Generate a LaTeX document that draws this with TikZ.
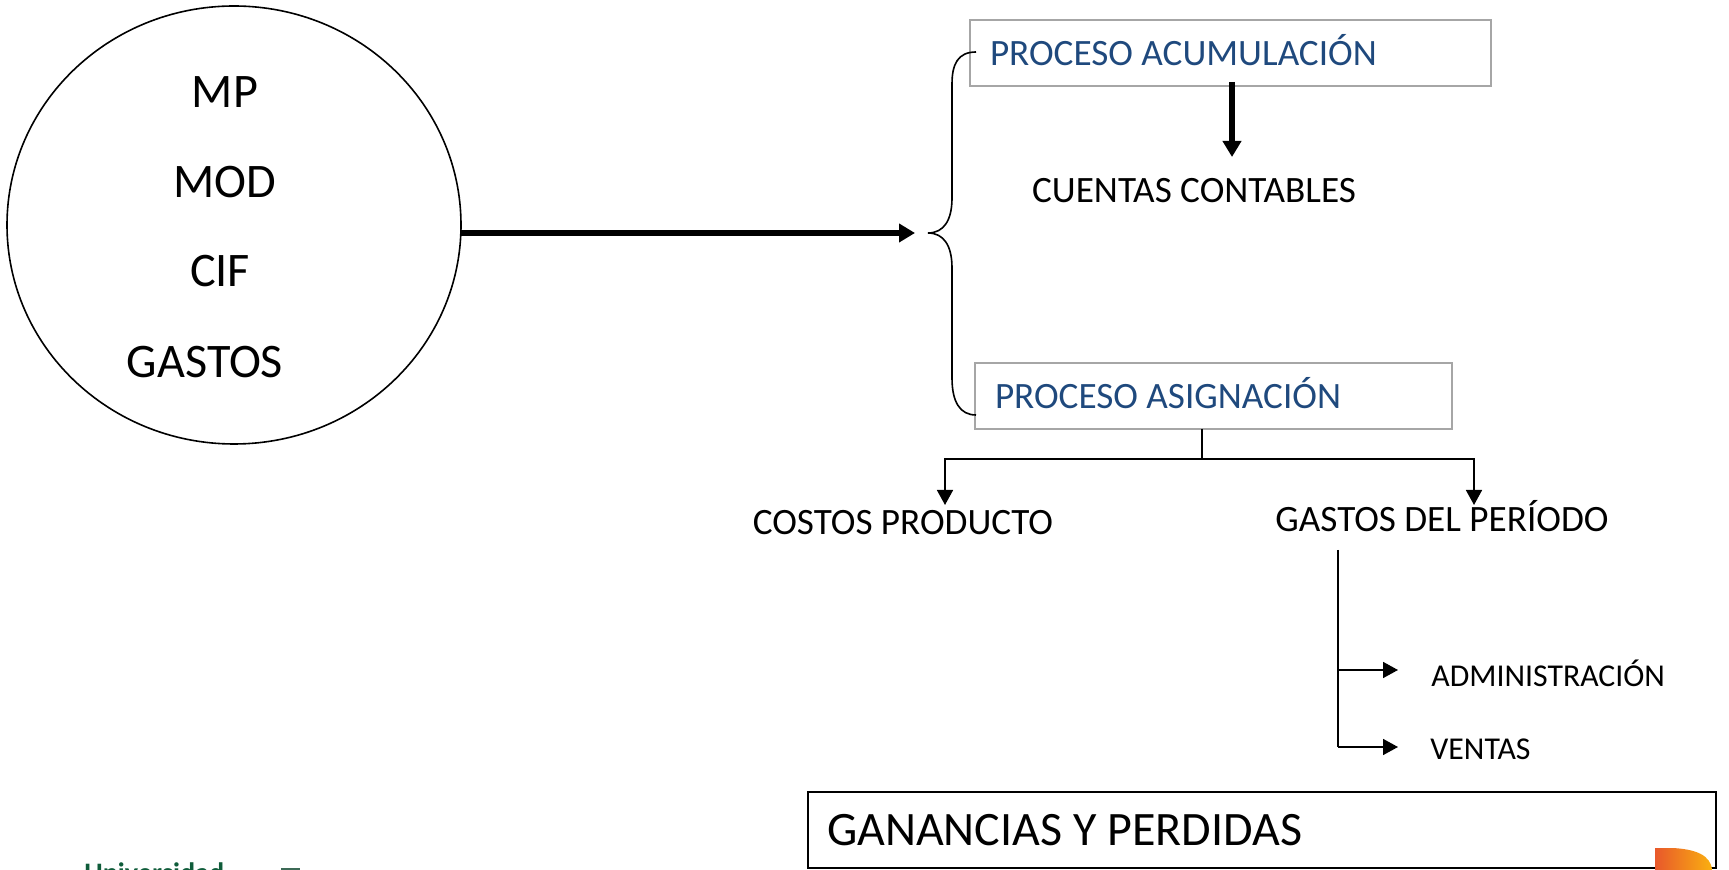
\documentclass[tikz,border=0pt]{standalone}
\usepackage{fontspec}
\setmainfont{Carlito}
\usetikzlibrary{positioning,shapes.geometric,arrows.meta}
\definecolor{boxtext}{HTML}{1F497D}
\definecolor{boxline}{HTML}{A6A6A6}
\definecolor{unigreen}{HTML}{0F5C3A}
\definecolor{logoleft}{HTML}{E8582B}
\definecolor{logoright}{HTML}{FAB010}
\tikzset{
  cost/.style={font=\fontsize{24.1}{28}\selectfont,inner sep=0pt},
  proc/.style={draw=boxline,line width=0.9pt,font=\fontsize{18.6}{22}\selectfont,text=boxtext,
    align=flush left,inner xsep=10pt,inner ysep=0pt,minimum height=33pt,outer sep=0pt,
    text height=15pt,text depth=2pt},
  lab/.style={font=\fontsize{18.6}{22}\selectfont,inner sep=0pt},
  small/.style={font=\fontsize{15.9}{19}\selectfont,inner sep=0pt},
  thin/.style={line width=0.8pt,-{Triangle[length=7.5pt,width=8pt]}},
  heavy/.style={line width=2.6pt,-{Triangle[length=8pt,width=9pt]}}
}
\begin{document}
\begin{tikzpicture}[x=0.5pt,y=-0.5pt,node distance=45pt,on grid]
  \useasboundingbox (0,0) rectangle (1729,870);
  \node[ellipse,draw,line width=0.8pt,minimum width=227pt,minimum height=219pt,inner sep=0pt,outer sep=0pt] (circ) at (234,225) {};
  \node[cost] (mp) at (225,92) {MP};
  \node[cost] (mod) [below = of mp] {MOD};
  \node[cost] (cif) [below left = 44.5pt and 2.5pt of mod] {CIF};
  \node[cost] (gastos) [below left = 45.5pt and 7.5pt of cif] {GASTOS};

  \node[proc,text width=240.5pt] (acum) at (1230.5,53) {PROCESO ACUMULACIÓN};
  \node[proc,text width=218.5pt] (asig) at (1213.5,396) {PROCESO ASIGNACIÓN};
  \node[lab] (cuentas) at (1194,191) {CUENTAS CONTABLES};
  \node[lab] (costos) at (903,523) {COSTOS PRODUCTO};
  \node[lab] (periodo) at (1442,516) {GASTOS DEL PERÍODO};
  \node[small,anchor=west] (admin) at (1431,673) {ADMINISTRACIÓN};
  \node[small,anchor=west] (ventas) at (1430,749) {VENTAS};
  \node[draw,line width=1pt,minimum width=454pt,minimum height=38pt,inner xsep=9.5pt,inner ysep=0pt,
    text width=435pt,align=flush left,font=\fontsize{24}{28}\selectfont,outer sep=0pt,
    text height=16pt,text depth=1pt] (ganancias) at (1262,830) {GANANCIAS Y PERDIDAS};

  \coordinate (arrowend) at (915,233);
  \coordinate (bracetip) at (928,233);
  \coordinate (bracetop) at (976,52);
  \coordinate (bracebot) at (976,415);
  \coordinate (split) at (1202,459);
  \coordinate (splitl) at (945,459);
  \coordinate (splitr) at (1474,459);
  \coordinate (stem) at (1338,550);
  \coordinate (stema) at (1338,670);
  \coordinate (stemb) at (1338,747);

  \draw[heavy] (circ.east |- arrowend) -- (arrowend);
  \draw[line width=0.8pt] (bracetop) .. controls (958,52) and (952,64) .. (952,84)
    -- (952,198) .. controls (952,220) and (944,233) .. (bracetip)
    .. controls (944,233) and (952,246) .. (952,268)
    -- (952,378) .. controls (952,402) and (960,415) .. (bracebot);
  \draw[heavy] (1232,82) -- (1232,157);
  \draw[line width=0.8pt] (asig.south -| split) -- (split);
  \draw[thin] (split) -- (splitl) -- (945,505);
  \draw[thin] (split) -- (splitr) -- (1474,505);
  \draw[line width=0.8pt] (stem) -- (stemb);
  \draw[thin] (stema) -- (1398,670);
  \draw[thin] (stemb) -- (1398,747);

  \path[left color=logoleft,right color=logoright]
    (1655,848) -- (1672,848) .. controls (1695,849) and (1711,855) .. (1712,870) -- (1655,870) -- cycle;
  \node[anchor=base west,inner sep=0pt,text=unigreen,font=\bfseries\fontsize{14.1}{17}\selectfont] (uni) at (84,882) {Universidad};
  \fill[unigreen!60!gray] (281,868) rectangle (300,870);
\end{tikzpicture}
\end{document}
